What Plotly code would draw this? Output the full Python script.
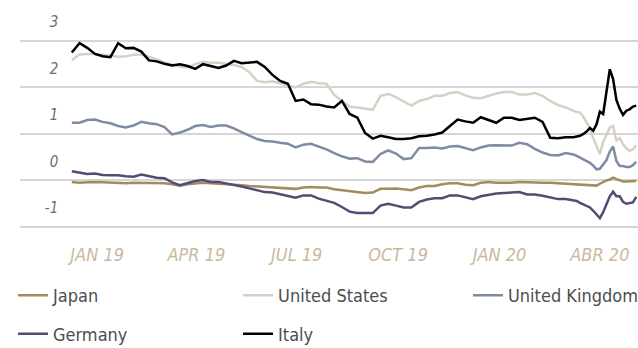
import pandas as pd
import plotly.graph_objects as go

# Observation dates: weekly closes, then every third day through the March 2020 turmoil
dates = list(pd.date_range("2018-12-09", periods=66, freq="7D")) + \
        list(pd.date_range("2020-03-11", periods=19, freq="3D"))

# 10-year government bond yields (%)
japan = [-0.03, -0.05, -0.04, -0.03, -0.04, -0.05, -0.05, -0.06, -0.05, -0.05,
         -0.05, -0.05, -0.06, -0.08, -0.11, -0.08, -0.06, -0.05, -0.06, -0.07,
         -0.08, -0.08, -0.10, -0.12, -0.13, -0.14, -0.15, -0.15, -0.17, -0.18,
         -0.15, -0.14, -0.15, -0.15, -0.19, -0.21, -0.23, -0.25, -0.27, -0.26,
         -0.18, -0.18, -0.17, -0.19, -0.21, -0.15, -0.12, -0.12, -0.08, -0.06,
         -0.06, -0.09, -0.10, -0.05, -0.03, -0.05, -0.05, -0.05, -0.03, -0.04,
         -0.05, -0.05, -0.05, -0.06, -0.08, -0.08,
         -0.09, -0.09, -0.09, -0.10, -0.11, -0.11, -0.11, -0.07, -0.03, 0.00,
         0.02, 0.06, 0.03, 0.01, -0.02, -0.02, -0.02, -0.02, -0.01]

united_states = [2.59, 2.71, 2.72, 2.72, 2.70, 2.68, 2.66, 2.67, 2.70, 2.71,
                 2.66, 2.61, 2.53, 2.49, 2.45, 2.43, 2.50, 2.55, 2.53, 2.53,
                 2.51, 2.48, 2.44, 2.33, 2.14, 2.11, 2.13, 2.08, 2.04, 2.00,
                 2.08, 2.12, 2.09, 2.08, 1.84, 1.71, 1.59, 1.57, 1.55, 1.52,
                 1.82, 1.86, 1.79, 1.70, 1.61, 1.71, 1.75, 1.82, 1.82, 1.88,
                 1.90, 1.83, 1.78, 1.77, 1.82, 1.87, 1.90, 1.90, 1.85, 1.85,
                 1.88, 1.82, 1.71, 1.62, 1.57, 1.49,
                 1.47, 1.46, 1.37, 1.25, 1.11, 0.91, 0.73, 0.57, 0.83, 0.99,
                 1.14, 1.17, 0.86, 0.91, 0.78, 0.69, 0.64, 0.67, 0.76]

united_kingdom = [1.24, 1.24, 1.30, 1.31, 1.26, 1.23, 1.17, 1.14, 1.18, 1.26,
                  1.23, 1.21, 1.15, 0.99, 1.03, 1.09, 1.17, 1.19, 1.15, 1.18,
                  1.18, 1.12, 1.04, 0.96, 0.89, 0.85, 0.84, 0.81, 0.79, 0.71,
                  0.77, 0.79, 0.73, 0.67, 0.59, 0.52, 0.47, 0.48, 0.41, 0.40,
                  0.57, 0.65, 0.58, 0.46, 0.48, 0.70, 0.70, 0.71, 0.69, 0.73,
                  0.74, 0.69, 0.65, 0.71, 0.75, 0.76, 0.76, 0.75, 0.81, 0.78,
                  0.68, 0.60, 0.55, 0.54, 0.59, 0.56,
                  0.53, 0.49, 0.46, 0.42, 0.38, 0.32, 0.24, 0.25, 0.34, 0.44,
                  0.62, 0.73, 0.42, 0.31, 0.31, 0.29, 0.29, 0.33, 0.40]

germany = [0.20, 0.17, 0.14, 0.15, 0.12, 0.11, 0.11, 0.09, 0.08, 0.13,
           0.09, 0.06, 0.05, -0.04, -0.10, -0.05, -0.01, 0.01, -0.03, -0.03,
           -0.06, -0.10, -0.13, -0.17, -0.21, -0.25, -0.26, -0.30, -0.34, -0.37,
           -0.32, -0.32, -0.39, -0.44, -0.48, -0.57, -0.67, -0.70, -0.70, -0.70,
           -0.54, -0.50, -0.54, -0.58, -0.58, -0.46, -0.41, -0.38, -0.38, -0.32,
           -0.32, -0.36, -0.40, -0.34, -0.31, -0.28, -0.27, -0.26, -0.25, -0.30,
           -0.30, -0.33, -0.37, -0.40, -0.40, -0.42,
           -0.44, -0.48, -0.51, -0.55, -0.58, -0.65, -0.74, -0.81, -0.68, -0.52,
           -0.34, -0.24, -0.34, -0.34, -0.46, -0.50, -0.48, -0.47, -0.35]

italy = [2.75, 2.95, 2.85, 2.72, 2.67, 2.65, 2.95, 2.84, 2.85, 2.77,
         2.58, 2.56, 2.51, 2.47, 2.50, 2.46, 2.40, 2.50, 2.46, 2.42,
         2.47, 2.57, 2.52, 2.53, 2.55, 2.44, 2.27, 2.14, 2.08, 1.71,
         1.74, 1.64, 1.63, 1.59, 1.57, 1.71, 1.43, 1.35, 1.02, 0.90,
         0.96, 0.93, 0.89, 0.89, 0.91, 0.95, 0.96, 0.99, 1.03, 1.17,
         1.31, 1.27, 1.24, 1.36, 1.30, 1.24, 1.35, 1.35, 1.30, 1.32,
         1.35, 1.26, 0.92, 0.91, 0.93, 0.93,
         0.94, 0.96, 1.00, 1.05, 1.13, 1.07, 1.21, 1.48, 1.43, 1.88,
         2.39, 2.18, 1.73, 1.54, 1.41, 1.50, 1.53, 1.59, 1.61]

tick_dates = ["2019-01-01", "2019-04-01", "2019-07-01", "2019-10-01", "2020-01-01", "2020-04-01"]
tick_labels = ["JAN 19", "APR 19", "JUL 19", "OCT 19", "JAN 20", "ABR 20"]
y_ticks = [-1, 0, 1, 2, 3]

FONT = "DejaVu Sans Condensed, Liberation Sans Narrow, sans-serif"

# name, values, colour, legend column
series = [
    ("Japan", japan, "#a48b5c", "legend"),
    ("United States", united_states, "#d9d0c5", "legend2"),
    ("United Kingdom", united_kingdom, "#7f8aa5", "legend3"),
    ("Germany", germany, "#524c74", "legend"),
    ("Italy", italy, "#000000", "legend2"),
]

fig = go.Figure()
for name, values, color, leg in series:
    fig.add_trace(go.Scatter(
        x=dates, y=values, name=name, mode="lines",
        line=dict(color=color, width=2.5),
        legend=leg, legendgroup=name,
    ))

legend_style = dict(
    orientation="v", xanchor="left", yanchor="top", y=-0.205,
    bgcolor="rgba(0,0,0,0)", borderwidth=0, tracegroupgap=12,
    font=dict(family=FONT, size=18, color="#4d4d4d"),
)

fig.update_layout(
    width=638, height=348,
    margin=dict(l=20, r=0, t=0, b=118, autoexpand=False),
    paper_bgcolor="white", plot_bgcolor="white",
    showlegend=True,
    legend=dict(legend_style, x=-0.0113),
    legend2=dict(legend_style, x=0.3528),
    legend3=dict(legend_style, x=0.7249),
    xaxis=dict(
        type="date",
        range=["2018-10-23", "2020-05-05 14:00"],
        tickvals=tick_dates, ticktext=tick_labels,
        showgrid=False, zeroline=False, showline=False, ticks="",
        ticklabelstandoff=12,
        tickfont=dict(family=FONT, size=18, color="#c9b99b", style="italic"),
    ),
    yaxis=dict(
        range=[-1.064, 3.879],
        tickvals=y_ticks, ticktext=[str(v) for v in y_ticks],
        showgrid=True, gridcolor="#d6d6d6", gridwidth=1.5,
        zeroline=False, showline=False, ticks="",
        anchor="free", position=0.062, side="left",
        ticklabelshift=-19,
        tickfont=dict(family=FONT, size=15, color="#6e6e6e", style="italic"),
    ),
)

fig.write_html("out.html")
